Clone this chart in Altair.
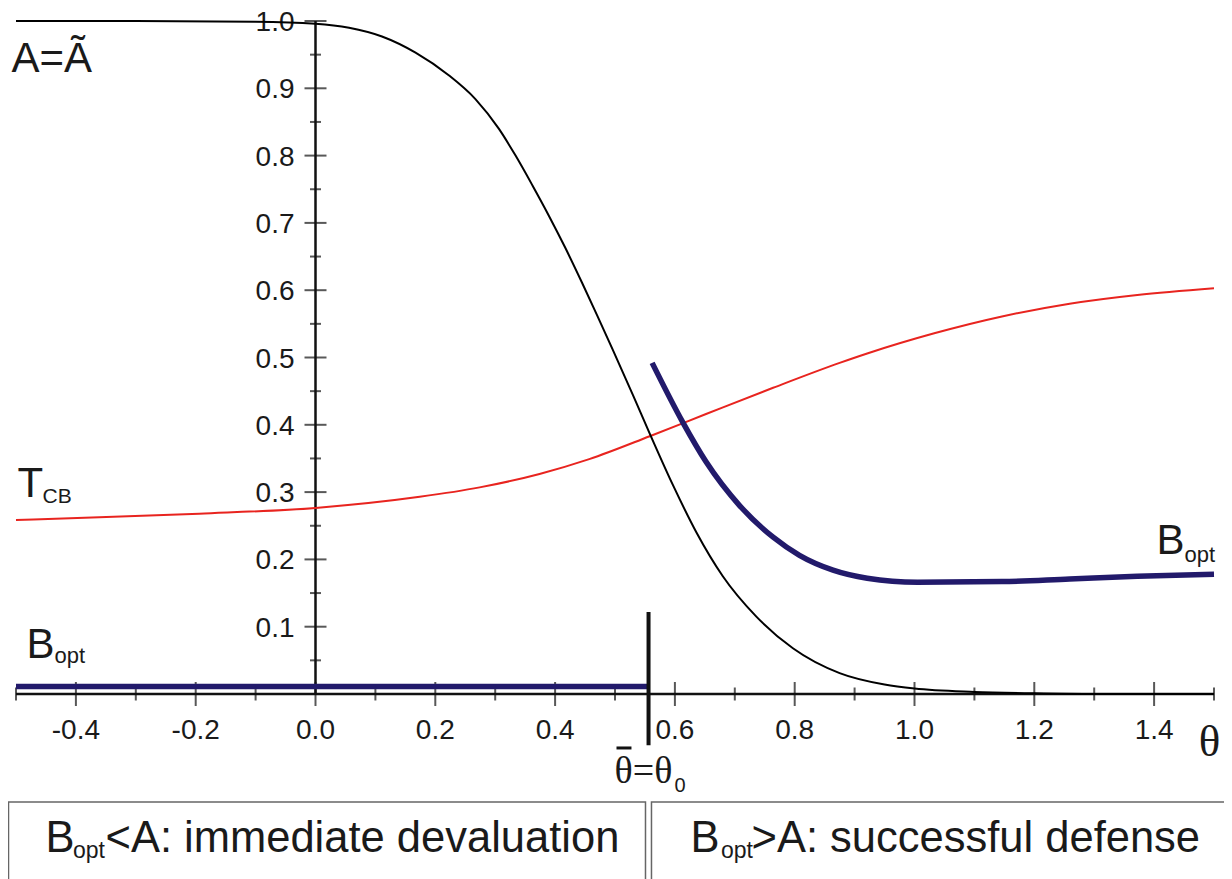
import altair as alt
import pandas as pd

# ---------------- data ----------------
# A = Ã (black curve)
a_theta = [-0.5, -0.3, -0.1, 0.0, 0.056, 0.111, 0.167, 0.223, 0.267, 0.306, 0.334,
           0.362, 0.390, 0.417, 0.445, 0.470, 0.496, 0.530, 0.558, 0.597, 0.636,
           0.680, 0.736, 0.797, 0.875, 0.95, 1.0, 1.1, 1.2, 1.3, 1.5]
a_vals = [1.0, 1.0, 0.999, 0.996, 0.990, 0.977, 0.953, 0.919, 0.884, 0.840, 0.800,
          0.756, 0.710, 0.663, 0.611, 0.563, 0.512, 0.444, 0.387, 0.310, 0.240,
          0.175, 0.115, 0.068, 0.031, 0.014, 0.008, 0.003, 0.001, 0.0, 0.0]

# T_CB (red curve)
t_theta = [-0.5, -0.361, -0.194, 0.0, 0.174, 0.274, 0.374, 0.457, 0.558, 0.652,
           0.764, 0.875, 0.921, 1.033, 1.146, 1.259, 1.372, 1.5]
t_vals = [0.2585, 0.2625, 0.268, 0.2765, 0.293, 0.307, 0.327, 0.349, 0.383, 0.416,
          0.455, 0.492, 0.506, 0.536, 0.561, 0.580, 0.593, 0.603]

# B_opt, successful-defense branch (thick blue)
b_hi_theta = [0.562, 0.613, 0.652, 0.708, 0.764, 0.808, 0.864, 0.921, 1.005, 1.146,
              1.259, 1.372, 1.5]
b_hi_vals = [0.492, 0.404, 0.345, 0.280, 0.233, 0.206, 0.184, 0.172, 0.166, 0.167,
             0.171, 0.175, 0.178]

# B_opt, devaluation branch (thick blue)
b_lo_theta = [-0.5, 0.556]
b_lo_vals = [0.011, 0.011]

theta0 = 0.556
theta0_mark_top = 0.122
theta0_mark_bottom = -0.076

# axis ticks and labels
x_major = [-0.4, -0.2, 0.0, 0.2, 0.4, 0.6, 0.8, 1.0, 1.2, 1.4]
x_major_labels = ["-0.4", "-0.2", "0.0", "0.2", "0.4", "0.6", "0.8", "1.0", "1.2", "1.4"]
x_minor = [-0.5, -0.3, -0.1, 0.1, 0.3, 0.5, 0.7, 0.9, 1.1, 1.3, 1.5]
y_major = [0.1, 0.2, 0.3, 0.4, 0.5, 0.6, 0.7, 0.8, 0.9, 1.0]
y_major_labels = ["0.1", "0.2", "0.3", "0.4", "0.5", "0.6", "0.7", "0.8", "0.9", "1.0"]
y_minor = [0.05, 0.15, 0.25, 0.35, 0.45, 0.55, 0.65, 0.75, 0.85, 0.95]

# ---------------- annotation placement (data units) ----------------
sans_text = [
    ("A=Ã", -0.5075, 0.924, 42),
    ("T", -0.4975, 0.2927, 42),
    ("CB", -0.4558, 0.2838, 21),
    ("B", -0.4825, 0.0535, 42),
    ("opt", -0.4357, 0.046, 22),
    ("B", 1.404, 0.208, 42),
    ("opt", 1.4508, 0.196, 22),
    ("B", -0.4508, -0.2348, 43.5),
    ("opt", -0.4050, -0.2437, 23),
    ("<A: immediate devaluation", -0.3506, -0.2348, 43.5),
    ("B", 0.6260, -0.2348, 43.5),
    ("opt", 0.6768, -0.2437, 23),
    (">A: successful defense", 0.7279, -0.2348, 43.5),
    ("0", 0.5993, -0.1456, 20),
]
serif_left = [("θ=θ", 0.4992, -0.1322, 38)]
serif_center = [("θ", 1.4925, -0.0921, 45)]
overbar = [(0.5025, 0.5275, -0.0802)]
boxes = [(-0.5125, 0.5509, -0.1605, -0.2912), (0.5609, 1.5259, -0.1605, -0.2912)]

SANS = "Liberation Sans"
SERIF = "Liberation Serif"

XS = alt.Scale(domain=[-0.5, 1.5], nice=False, zero=False)
YS = alt.Scale(domain=[0, 1], nice=False, zero=False)


def X(f):
    return alt.X(f, type="quantitative", scale=XS, axis=None)


def Y(f):
    return alt.Y(f, type="quantitative", scale=YS, axis=None)


def line_layer(xs, ys, color, width):
    df = pd.DataFrame({"t": xs, "v": ys})
    return alt.Chart(df).mark_line(color=color, strokeWidth=width, interpolate="monotone").encode(
        x=X("t"), y=Y("v"), order="t:Q")


black = line_layer(a_theta, a_vals, "#000000", 2)
red = line_layer(t_theta, t_vals, "#e8241f", 2)
blue_hi = line_layer(b_hi_theta, b_hi_vals, "#221a6b", 5.5)
blue_lo = line_layer(b_lo_theta, b_lo_vals, "#221a6b", 5.5)

# axis lines
xaxis = alt.Chart(pd.DataFrame({"x": [-0.5], "x2": [1.5], "y": [0.0]})).mark_rule(
    color="#111111", strokeWidth=2.5).encode(x=X("x"), x2="x2", y=Y("y"))
yaxis = alt.Chart(pd.DataFrame({"x": [0.0], "y": [0.0], "y2": [1.0]})).mark_rule(
    color="#111111", strokeWidth=2.5).encode(x=X("x"), y=Y("y"), y2="y2")

# ticks
xmaj = alt.Chart(pd.DataFrame({"x": x_major, "y": [0.0] * len(x_major)})).mark_tick(
    orient="vertical", size=24, thickness=2, color="#111111").encode(x=X("x"), y=Y("y"))
xmin = alt.Chart(pd.DataFrame({"x": x_minor, "y": [0.0] * len(x_minor)})).mark_tick(
    orient="vertical", size=13, thickness=2, color="#111111").encode(x=X("x"), y=Y("y"))
ymaj = alt.Chart(pd.DataFrame({"x": [0.0] * len(y_major), "y": y_major})).mark_tick(
    orient="horizontal", size=22, thickness=2, color="#111111").encode(x=X("x"), y=Y("y"))
ymin = alt.Chart(pd.DataFrame({"x": [0.0] * len(y_minor), "y": y_minor})).mark_tick(
    orient="horizontal", size=11, thickness=2, color="#111111").encode(x=X("x"), y=Y("y"))

# tick labels
xlab = alt.Chart(pd.DataFrame({"x": x_major, "y": [0.0] * len(x_major), "s": x_major_labels})).mark_text(
    font=SANS, fontSize=28, align="center", baseline="alphabetic", dy=45, color="#1a1a1a").encode(
    x=X("x"), y=Y("y"), text="s:N")
ylab = alt.Chart(pd.DataFrame({"x": [0.0] * len(y_major), "y": y_major, "s": y_major_labels})).mark_text(
    font=SANS, fontSize=28, align="right", baseline="middle", dx=-21, dy=2, color="#1a1a1a").encode(
    x=X("x"), y=Y("y"), text="s:N")

# theta-bar = theta_0 marker
vline = alt.Chart(pd.DataFrame({"x": [theta0], "y": [theta0_mark_top], "y2": [theta0_mark_bottom]})).mark_rule(
    color="#111111", strokeWidth=4).encode(x=X("x"), y=Y("y"), y2="y2")
bar = alt.Chart(pd.DataFrame(overbar, columns=["x", "x2", "y"])).mark_rule(
    color="#111111", strokeWidth=3).encode(x=X("x"), x2="x2", y=Y("y"))

# boxes
box = alt.Chart(pd.DataFrame(boxes, columns=["x", "x2", "y", "y2"])).mark_rect(
    fill="white", fillOpacity=0, stroke="#666666", strokeWidth=1.5).encode(
    x=X("x"), x2="x2", y=Y("y"), y2="y2")

# texts
sans = alt.Chart(pd.DataFrame(sans_text, columns=["s", "x", "y", "fs"])).mark_text(
    font=SANS, align="left", baseline="alphabetic", color="#1a1a1a").encode(
    x=X("x"), y=Y("y"), text="s:N", size=alt.Size("fs:Q", scale=None, legend=None))
serif1 = alt.Chart(pd.DataFrame(serif_left, columns=["s", "x", "y", "fs"])).mark_text(
    font=SERIF, align="left", baseline="alphabetic", color="#1a1a1a").encode(
    x=X("x"), y=Y("y"), text="s:N", size=alt.Size("fs:Q", scale=None, legend=None))
serif2 = alt.Chart(pd.DataFrame(serif_center, columns=["s", "x", "y", "fs"])).mark_text(
    font=SERIF, align="center", baseline="alphabetic", color="#1a1a1a").encode(
    x=X("x"), y=Y("y"), text="s:N", size=alt.Size("fs:Q", scale=None, legend=None))

chart = alt.layer(
    box, xaxis, yaxis, xmaj, xmin, ymaj, ymin, xlab, ylab,
    red, black, blue_lo, blue_hi, vline, bar, sans, serif1, serif2
).properties(
    width=1198, height=673,
    autosize=alt.AutoSizeParams(type="none"),
    padding={"left": 8, "top": 13, "right": 10, "bottom": 185},
    background="white",
).configure_view(stroke=None)

chart.save("out.html", embed_options={"renderer": "svg", "actions": False})
